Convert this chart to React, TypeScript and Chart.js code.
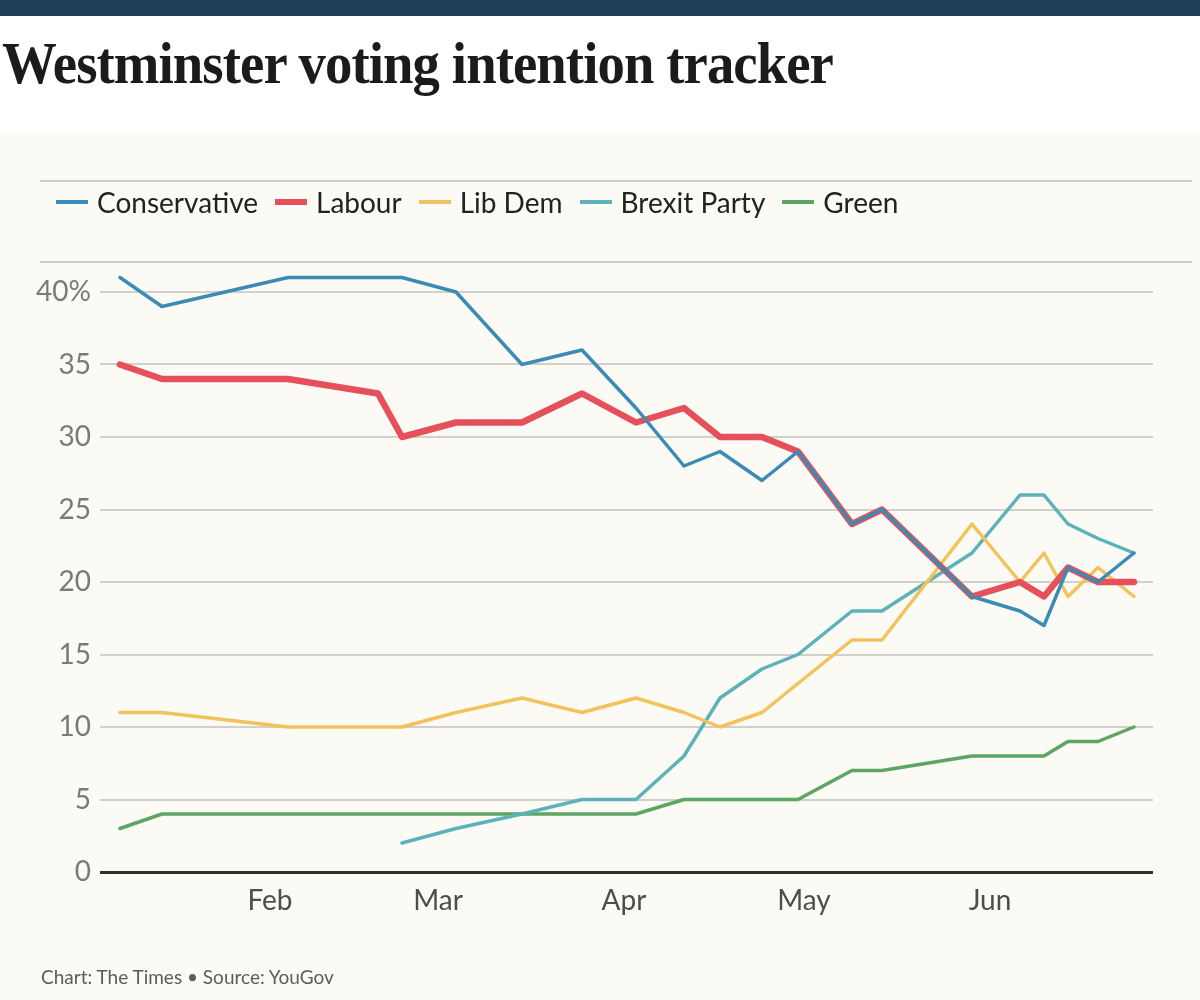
import React, { useEffect, useLayoutEffect, useRef, useState } from "react";
import { Chart, registerables } from "chart.js";

Chart.register(...registerables);

// ---- data ----
const pollDates = [
  "2019-01-07", "2019-01-14", "2019-02-04", "2019-02-19", "2019-02-23",
  "2019-03-04", "2019-03-15", "2019-03-25", "2019-04-03", "2019-04-11",
  "2019-04-17", "2019-04-24", "2019-04-30", "2019-05-09", "2019-05-14",
  "2019-05-29", "2019-06-06", "2019-06-10", "2019-06-14", "2019-06-19",
  "2019-06-25",
];
const conservative = [41, 39, 41, 41, 41, 40, 35, 36, 32, 28, 29, 27, 29, 24, 25, 19, 18, 17, 21, 20, 22];
const labour = [35, 34, 34, 33, 30, 31, 31, 33, 31, 32, 30, 30, 29, 24, 25, 19, 20, 19, 21, 20, 20];
const libDem = [11, 11, 10, 10, 10, 11, 12, 11, 12, 11, 10, 11, 13, 16, 16, 24, 20, 22, 19, 21, 19];
const brexitParty = [null, null, null, null, 2, 3, 4, 5, 5, 8, 12, 14, 15, 18, 18, 22, 26, 26, 24, 23, 22];
const green = [3, 4, 4, 4, 4, 4, 4, 4, 4, 5, 5, 5, 5, 7, 7, 8, 8, 8, 9, 9, 10];

const seriesNames = ["Conservative", "Labour", "Lib Dem", "Brexit Party", "Green"];
const seriesValues = [conservative, labour, libDem, brexitParty, green];

const monthTickDates = ["2019-02-01", "2019-03-01", "2019-04-01", "2019-05-01", "2019-06-01"];
const monthTickLabels = ["Feb", "Mar", "Apr", "May", "Jun"];
const yTickValues = [0, 5, 10, 15, 20, 25, 30, 35, 40];

// ---- styles ----
const seriesColors = ["#3a8cb4", "#e6505a", "#f2c35c", "#5bb3b9", "#5ea462"];
const seriesWidths = [3.5, 6.5, 3.5, 3.5, 3.5];
const FONT = "Lato, 'Open Sans', sans-serif";

const dayNum = (iso: string) => {
  const [y, m, d] = iso.split("-").map(Number);
  return (Date.UTC(y, m - 1, d) - Date.UTC(y, 0, 1)) / 86400000;
};

export default function App() {
  const canvasRef = useRef<HTMLCanvasElement | null>(null);
  const titleRef = useRef<HTMLSpanElement | null>(null);
  const [titleScale, setTitleScale] = useState(1);

  useLayoutEffect(() => {
    if (titleRef.current) {
      const w = titleRef.current.getBoundingClientRect().width;
      if (w > 0) setTitleScale(831 / w);
    }
  }, []);

  useEffect(() => {
    if (!canvasRef.current) return;
    const xs = pollDates.map(dayNum);
    const tickXs = monthTickDates.map(dayNum);
    const chart = new Chart(canvasRef.current, {
      type: "line",
      data: {
        datasets: seriesNames.map((name, i) => ({
          label: name,
          data: xs.map((x, j) => ({ x, y: seriesValues[i][j] })),
          borderColor: seriesColors[i],
          backgroundColor: seriesColors[i],
          borderWidth: seriesWidths[i],
          pointRadius: 0,
          pointHoverRadius: 0,
          tension: 0,
          spanGaps: true,
          borderJoinStyle: "round",
          borderCapStyle: "round",
          fill: false,
        })),
      },
      options: {
        animation: false,
        responsive: true,
        maintainAspectRatio: false,
        layout: { padding: { top: 130, left: 0, right: 47, bottom: 78 } },
        plugins: { legend: { display: false }, tooltip: { enabled: false }, title: { display: false } },
        scales: {
          x: {
            type: "linear",
            min: 2.67,
            max: 178.17,
            afterFit: (s: any) => { s.height = 50; },
            afterBuildTicks: (s: any) => { s.ticks = tickXs.map((v) => ({ value: v })); },
            grid: { display: false, drawTicks: false },
            border: { display: false },
            ticks: {
              autoSkip: false,
              maxRotation: 0,
              padding: 12,
              color: "#4d4d4d",
              font: { family: FONT, size: 28 },
              callback: (v: any) => {
                const idx = tickXs.indexOf(Number(v));
                return idx >= 0 ? monthTickLabels[idx] : "";
              },
            },
          },
          y: {
            type: "linear",
            min: 0,
            max: 42,
            afterFit: (s: any) => { s.width = 100; },
            afterBuildTicks: (s: any) => { s.ticks = yTickValues.map((v) => ({ value: v })); },
            grid: {
              drawTicks: false,
              color: (ctx: any) => (ctx.tick && ctx.tick.value === 0 ? "#2e2e2e" : "#d3d0cb"),
              lineWidth: (ctx: any) => (ctx.tick && ctx.tick.value === 0 ? 3 : 2),
            },
            border: { display: false },
            ticks: {
              padding: 9,
              color: "#7a7a7a",
              font: { family: FONT, size: 28 },
              callback: (v: any) => (Number(v) === 40 ? "40%" : String(v)),
            },
          },
        },
      },
    });
    return () => chart.destroy();
  }, []);

  return (
    <div style={{ position: "absolute", left: 0, top: 0, width: 1200, height: 1000, overflow: "hidden", background: "#ffffff", fontFamily: FONT }}>
      <div style={{ position: "absolute", left: 0, top: 0, width: 1200, height: 16, background: "#1f3e59" }} />
      <div style={{ position: "absolute", left: 2, top: 33, whiteSpace: "nowrap", transformOrigin: "0 0", transform: `scaleX(${titleScale})` }}>
        <span
          ref={titleRef}
          style={{ fontFamily: "'Liberation Serif', 'Times New Roman', serif", fontWeight: 700, fontSize: 60, lineHeight: "60px", color: "#1b1b1b", letterSpacing: -1 }}
        >
          Westminster voting intention tracker
        </span>
      </div>
      <div style={{ position: "absolute", left: 0, top: 133, width: 1200, height: 867, background: "#fbfaf5" }}>
        <div style={{ position: "absolute", left: 0, top: 0, width: 1200, height: 867 }}>
          <canvas ref={canvasRef} />
        </div>
        <div style={{ position: "absolute", left: 40, top: 47, width: 1152, height: 2, background: "#d0cdc8" }} />
        <div style={{ position: "absolute", left: 40, top: 128, width: 1152, height: 2, background: "#d0cdc8" }} />
        <div style={{ position: "absolute", left: 56, top: 49, height: 40, display: "flex", alignItems: "center", whiteSpace: "nowrap" }}>
          {seriesNames.map((name, i) => (
            <div key={name} style={{ display: "flex", alignItems: "center", marginRight: 17 }}>
              <span style={{ display: "inline-block", width: 32, height: i === 1 ? 6 : 4, background: seriesColors[i], marginRight: 9 }} />
              <span style={{ fontSize: 28, lineHeight: "40px", color: "#222222" }}>{name}</span>
            </div>
          ))}
        </div>
        <div style={{ position: "absolute", left: 41, top: 834, fontSize: 19, lineHeight: "19px", color: "#5c5c5c", whiteSpace: "nowrap" }}>
          Chart: The Times • Source: YouGov
        </div>
      </div>
    </div>
  );
}
